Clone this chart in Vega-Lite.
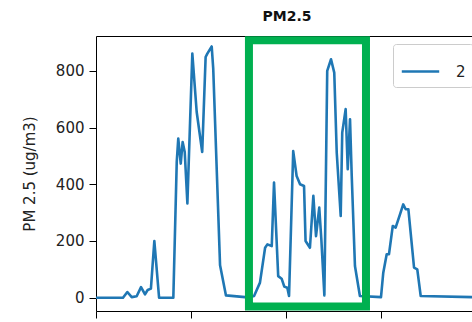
{
  "$schema": "https://vega.github.io/schema/vega-lite/v6.json",
  "autosize": "none",
  "width": 376,
  "height": 275,
  "padding": {"left": 96, "top": 36, "right": 0, "bottom": 11},
  "background": "white",
  "config": {
    "font": "DejaVu Sans",
    "view": {"stroke": "black", "strokeWidth": 1},
    "axis": {"grid": false, "domain": false, "tickColor": "black", "labelColor": "#222222", "titleColor": "#222222", "labelFont": "DejaVu Sans", "titleFont": "DejaVu Sans"}
  },
  "title": {"text": "PM2.5", "fontSize": 14, "fontWeight": "bold", "font": "DejaVu Sans", "color": "#111111", "offset": 12, "dx": 3},
  "layer": [
    {
      "data": {"values": [
        {"t": 0, "pm": 0, "series": "2"},
        {"t": 14.2, "pm": 0, "series": "2"},
        {"t": 16.5, "pm": 20, "series": "2"},
        {"t": 18.8, "pm": 2, "series": "2"},
        {"t": 21.4, "pm": 5, "series": "2"},
        {"t": 23.7, "pm": 37, "series": "2"},
        {"t": 25.8, "pm": 12, "series": "2"},
        {"t": 27.2, "pm": 27, "series": "2"},
        {"t": 28.9, "pm": 32, "series": "2"},
        {"t": 30.7, "pm": 200, "series": "2"},
        {"t": 33.2, "pm": 0, "series": "2"},
        {"t": 40.7, "pm": 0, "series": "2"},
        {"t": 42.5, "pm": 479, "series": "2"},
        {"t": 43.3, "pm": 561, "series": "2"},
        {"t": 44.6, "pm": 473, "series": "2"},
        {"t": 45.6, "pm": 549, "series": "2"},
        {"t": 46.7, "pm": 514, "series": "2"},
        {"t": 48.1, "pm": 332, "series": "2"},
        {"t": 50.7, "pm": 861, "series": "2"},
        {"t": 53.0, "pm": 655, "series": "2"},
        {"t": 55.9, "pm": 514, "series": "2"},
        {"t": 57.7, "pm": 849, "series": "2"},
        {"t": 58.6, "pm": 861, "series": "2"},
        {"t": 60.9, "pm": 886, "series": "2"},
        {"t": 61.7, "pm": 808, "series": "2"},
        {"t": 65.3, "pm": 114, "series": "2"},
        {"t": 68.4, "pm": 8, "series": "2"},
        {"t": 78.4, "pm": 2, "series": "2"},
        {"t": 81.1, "pm": 2, "series": "2"},
        {"t": 83.2, "pm": 6, "series": "2"},
        {"t": 86.3, "pm": 53, "series": "2"},
        {"t": 89.0, "pm": 176, "series": "2"},
        {"t": 90.2, "pm": 188, "series": "2"},
        {"t": 92.5, "pm": 182, "series": "2"},
        {"t": 93.7, "pm": 406, "series": "2"},
        {"t": 95.9, "pm": 76, "series": "2"},
        {"t": 97.7, "pm": 67, "series": "2"},
        {"t": 99.1, "pm": 39, "series": "2"},
        {"t": 100.7, "pm": 35, "series": "2"},
        {"t": 101.6, "pm": 6, "series": "2"},
        {"t": 103.8, "pm": 517, "series": "2"},
        {"t": 105.6, "pm": 429, "series": "2"},
        {"t": 107.4, "pm": 400, "series": "2"},
        {"t": 109.5, "pm": 394, "series": "2"},
        {"t": 110.3, "pm": 200, "series": "2"},
        {"t": 112.6, "pm": 176, "series": "2"},
        {"t": 114.4, "pm": 359, "series": "2"},
        {"t": 115.8, "pm": 217, "series": "2"},
        {"t": 117.5, "pm": 318, "series": "2"},
        {"t": 118.6, "pm": 206, "series": "2"},
        {"t": 120.2, "pm": 8, "series": "2"},
        {"t": 121.7, "pm": 800, "series": "2"},
        {"t": 123.7, "pm": 841, "series": "2"},
        {"t": 125.4, "pm": 794, "series": "2"},
        {"t": 126.7, "pm": 512, "series": "2"},
        {"t": 128.8, "pm": 288, "series": "2"},
        {"t": 129.6, "pm": 582, "series": "2"},
        {"t": 131.4, "pm": 665, "series": "2"},
        {"t": 132.5, "pm": 453, "series": "2"},
        {"t": 133.7, "pm": 629, "series": "2"},
        {"t": 134.6, "pm": 429, "series": "2"},
        {"t": 136.3, "pm": 112, "series": "2"},
        {"t": 138.9, "pm": 6, "series": "2"},
        {"t": 150.0, "pm": 2, "series": "2"},
        {"t": 151.2, "pm": 88, "series": "2"},
        {"t": 153.0, "pm": 153, "series": "2"},
        {"t": 154.2, "pm": 153, "series": "2"},
        {"t": 156.2, "pm": 253, "series": "2"},
        {"t": 157.7, "pm": 247, "series": "2"},
        {"t": 160.0, "pm": 294, "series": "2"},
        {"t": 161.7, "pm": 329, "series": "2"},
        {"t": 163.0, "pm": 312, "series": "2"},
        {"t": 164.4, "pm": 312, "series": "2"},
        {"t": 167.4, "pm": 106, "series": "2"},
        {"t": 169.1, "pm": 100, "series": "2"},
        {"t": 170.9, "pm": 6, "series": "2"},
        {"t": 197.9, "pm": 2, "series": "2"}
      ]},
      "mark": {"type": "line", "strokeWidth": 2.6, "strokeJoin": "round", "clip": true},
      "encoding": {
        "x": {"field": "t", "type": "quantitative", "scale": {"domain": [0, 197.9], "nice": false, "zero": false},
              "axis": {"title": null, "values": [0, 50, 100, 150, 200], "labels": false, "tickSize": 7}},
        "y": {"field": "pm", "type": "quantitative", "scale": {"domain": [-47, 923], "nice": false, "zero": false},
              "axis": {"title": "PM 2.5 (ug/m3)", "values": [0, 200, 400, 600, 800], "tickSize": 7, "labelPadding": 5, "labelFontSize": 15, "titleFontSize": 15, "titleFontWeight": "normal", "titlePadding": 18}},
        "color": {"field": "series", "type": "nominal", "scale": {"range": ["#1f77b4"]},
                  "legend": {"title": null, "orient": "none", "legendX": 297, "legendY": 8, "symbolType": "stroke", "symbolSize": 1400, "symbolStrokeWidth": 2.6, "labelFontSize": 15, "labelOffset": 15, "padding": 7, "strokeColor": "#cccccc", "fillColor": "white", "cornerRadius": 3, "labelColor": "#222222"}}
      }
    },
    {
      "data": {"values": [{"x1": 80.5, "x2": 142.1, "y1": -31, "y2": 908}]},
      "mark": {"type": "rect", "fill": null, "filled": false, "stroke": "#00b050", "strokeWidth": 8},
      "encoding": {
        "x": {"field": "x1", "type": "quantitative"},
        "x2": {"field": "x2"},
        "y": {"field": "y1", "type": "quantitative"},
        "y2": {"field": "y2"}
      }
    }
  ]
}
